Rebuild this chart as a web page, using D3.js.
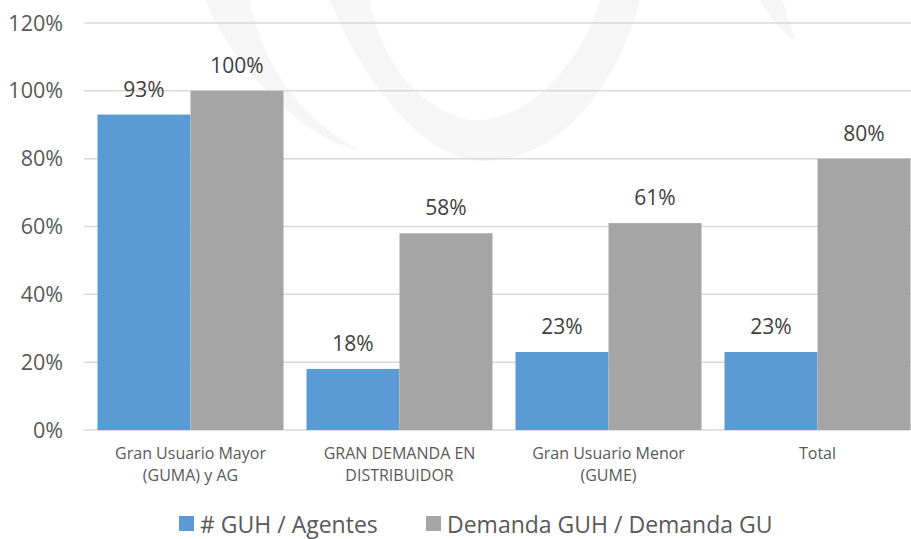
<!DOCTYPE html>
<html><head><meta charset="utf-8">
<script src="https://cdn.jsdelivr.net/npm/d3@7"></script>
<style>body{margin:0;background:#fff;overflow:hidden}svg{display:block}</style>
</head><body>
<svg id="c" width="911" height="539"></svg>
<script>
const categories = [["Gran Usuario Mayor","(GUMA) y AG"],["GRAN DEMANDA EN","DISTRIBUIDOR"],["Gran Usuario Menor","(GUME)"],["Total"]];
const seriesNames = ["# GUH / Agentes","Demanda GUH / Demanda GU"];
const agentes = [93, 18, 23, 23];
const demanda = [100, 58, 61, 80];
const yTicks = [0, 20, 40, 60, 80, 100, 120];
const colors = ["#5B9BD5", "#A5A5A5"];

const svg = d3.select("#c");
const font = "'Open Sans', sans-serif";
// faint watermark
const wm = svg.append("g").attr("fill","#f6f6f6");
wm.append("path").attr("d","M205,0 C230,60 300,140 360,150 C300,120 260,60 250,0 Z");
wm.append("path").attr("d","M330,0 C360,80 420,150 470,160 C560,170 620,80 640,0 L600,0 C580,70 520,125 470,120 C420,110 380,60 370,0 Z");
wm.append("path").attr("d","M760,0 C770,20 785,35 795,40 C790,25 785,10 783,0 Z");

const keys = categories.map((c,i)=>i);
const x = d3.scaleBand().domain(keys).range([86, 922]).paddingInner(0.11).paddingOuter(0.055);
const x1 = d3.scaleBand().domain([0,1]).range([0, x.bandwidth()]);
const y = d3.scaleLinear().domain([0,120]).range([430, 23]);

svg.append("g").selectAll("line").data(yTicks).join("line")
  .attr("x1",84).attr("x2",911).attr("y1",d=>y(d)).attr("y2",d=>y(d))
  .attr("stroke","#d9d9d9").attr("stroke-width",1.5);
svg.append("g").selectAll("text").data(yTicks).join("text")
  .attr("x",63).attr("y",d=>y(d)).attr("dy","0.35em").attr("text-anchor","end")
  .attr("font-family",font).attr("font-size",21.5).attr("fill","#595959").text(d=>d+"%");

const data = [];
keys.forEach(i=>{ data.push({c:i,s:0,v:agentes[i]}); data.push({c:i,s:1,v:demanda[i]}); });

svg.append("g").selectAll("rect").data(data).join("rect")
  .attr("x",d=>x(d.c)+x1(d.s)).attr("width",x1.bandwidth())
  .attr("y",d=>y(d.v)).attr("height",d=>y(0)-y(d.v)).attr("fill",d=>colors[d.s]);

svg.append("g").selectAll("text").data(data).join("text")
  .attr("x",d=>x(d.c)+x1(d.s)+x1.bandwidth()/2).attr("y",d=>y(d.v)-18)
  .attr("text-anchor","middle").attr("font-family",font).attr("font-size",21).attr("fill","#404040")
  .text(d=>d.v+"%");

const cat = svg.append("g").selectAll("text").data(keys).join("text")
  .attr("x",d=>x(d)+x.bandwidth()/2).attr("y",459).attr("text-anchor","middle")
  .attr("font-family",font).attr("font-size",16).attr("fill","#595959");
cat.each(function(d){
  const t = d3.select(this);
  categories[d].forEach((line,j)=>t.append("tspan").attr("x",x(d)+x.bandwidth()/2).attr("dy", j?22:0).text(line));
});

const leg = svg.append("g");
const legX = [179, 426];
seriesNames.forEach((n,i)=>{
  leg.append("rect").attr("x",legX[i]).attr("y",516).attr("width",15).attr("height",15).attr("fill",colors[i]);
  leg.append("text").attr("x",legX[i]+21).attr("y",533).attr("font-family",font).attr("font-size",23)
    .attr("fill","#595959").text(n);
});
</script>
</body></html>
